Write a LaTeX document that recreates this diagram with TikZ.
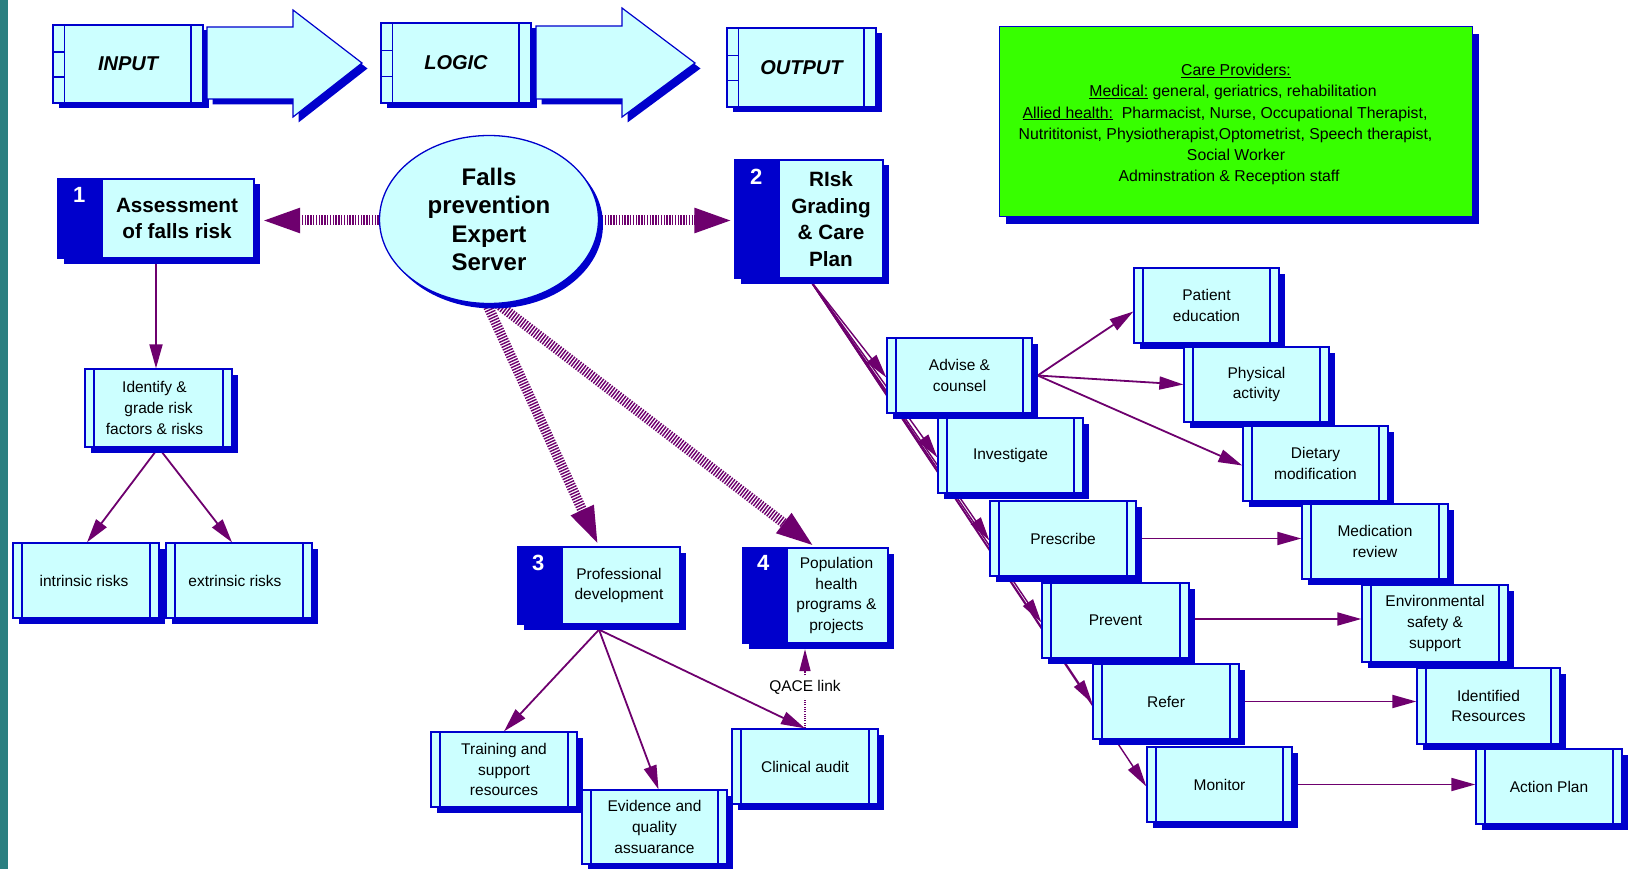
\documentclass[tikz,border=0pt]{standalone}
\usepackage{fontspec}
\setmainfont{Liberation Sans}
\usetikzlibrary{arrows.meta,shadows,shapes.geometric,calc}
\definecolor{cyanL}{RGB}{204,255,255}
\definecolor{blueD}{RGB}{0,0,204}
\definecolor{purp}{RGB}{110,0,110}
\definecolor{limeG}{RGB}{55,255,0}
\definecolor{tealS}{RGB}{42,127,128}
\newcommand\nf{\fontsize{15.5}{20.8}\selectfont}
\newcommand\cf{\fontsize{15.8}{21.1}\selectfont}
\newcommand\bfnt{\fontsize{20.7}{26.5}\selectfont\bfseries}
\newcommand\efnt{\fontsize{24}{28.4}\selectfont\bfseries}
\newcommand\tfnt{\fontsize{20}{24}\selectfont\bfseries\itshape}
\newcommand\numf{\fontsize{22}{24}\selectfont\bfseries}
\newcommand\tailpad[1]{\rule{#1}{0pt}}
\pgfdeclarelayer{bg}
\pgfsetlayers{bg,main}
\tikzset{
  shade5/.style={drop shadow={shadow xshift=5.5pt, shadow yshift=-5.5pt, fill=blueD, opacity=1}},
  barbox/.style={rectangle, fill=cyanL, draw=blueD, line width=1.3pt,
    minimum width=146pt, minimum height=75pt, inner sep=0pt, align=center, font=\nf, shade5,
    path picture={\draw[blueD, line width=1.3pt]
      ([xshift=9pt]path picture bounding box.north west) -- ([xshift=9pt]path picture bounding box.south west)
      ([xshift=-9pt]path picture bounding box.north east) -- ([xshift=-9pt]path picture bounding box.south east);}},
  stagebox/.style={rectangle, fill=cyanL, draw=blueD, line width=1.3pt, inner sep=0pt, font=\tfnt, shade5,
    path picture={\draw[blueD, line width=1.3pt]
      ([xshift=11.5pt]path picture bounding box.north west) -- ([xshift=11.5pt]path picture bounding box.south west)
      ([xshift=-12pt]path picture bounding box.north east) -- ([xshift=-12pt]path picture bounding box.south east)
      ($(path picture bounding box.north west)!0.345!(path picture bounding box.south west)$) -- +(11.5pt,0)
      ($(path picture bounding box.north west)!0.665!(path picture bounding box.south west)$) -- +(11.5pt,0);}},
  numbox/.style={rectangle, fill=cyanL, draw=blueD, line width=1.3pt, inner sep=0pt, shade5,
    path picture={\fill[blueD] (path picture bounding box.north west) rectangle ([xshift=45pt]path picture bounding box.south west);}},
  numtxt/.style={font=\numf, text=white, inner sep=0pt},
  blockarrow/.style={fill=cyanL, draw=blueD, line width=1.2pt, shade5},
  hatch/.style={draw=purp, line width=10pt, dash pattern=on 1.4pt off 1.4pt, -{Triangle[length=40pt,width=22pt]}},
  conn/.style={draw=purp, line width=1.8pt, -{Triangle[length=24pt,width=13pt]}},
  fan/.style={draw=purp, line width=1.4pt, -{Triangle[length=24pt,width=12pt]}}
}
\begin{document}
\begin{tikzpicture}[x=1pt,y=-1pt]
\useasboundingbox (0,0) rectangle (1633,869);
\begin{pgfonlayer}{bg}
  \fill[white] (0,0) rectangle (1633,869);
  \fill[tealS] (0,0) rectangle (8,869);
\end{pgfonlayer}

% top row: stages and block arrows
\node[stagebox, minimum width=150pt, minimum height=78pt] (inp) at (128,64) {INPUT};
\filldraw[blockarrow] (207,27) -- (293,27) -- (293,10) -- (362,63) -- (293,117) -- (293,99) -- (207,99) -- cycle;
\node[stagebox, minimum width=150pt, minimum height=80pt] (lgc) at (456,63) {LOGIC};
\filldraw[blockarrow] (536,26) -- (622,26) -- (622,8) -- (695,63) -- (622,117) -- (622,99) -- (536,99) -- cycle;
\node[stagebox, minimum width=149pt, minimum height=79pt] (outp) at (801.5,67.5) {OUTPUT};

% care providers panel
\node[rectangle, fill=limeG, draw=blueD, line width=1pt, minimum width=473pt, minimum height=190pt,
  inner sep=0pt,
  drop shadow={shadow xshift=6pt, shadow yshift=-7pt, fill=blueD, opacity=1}] (care) at (1236,122) {};
\node[align=center, font=\cf, inner sep=0pt] (caret) at (1236,124.5)
  {\underline{Care Providers:}\\
   \underline{Medical:} general, geriatrics, rehabilitation\tailpad{6pt}\\
   \underline{Allied health:}\ \ Pharmacist, Nurse, Occupational Therapist,\tailpad{22pt}\\
   Nutrititonist, Physiotherapist,Optometrist, Speech therapist,\tailpad{21pt}\\
   Social Worker\\
   Adminstration \& Reception staff\tailpad{14pt}};

% central server
\node[ellipse, fill=cyanL, draw=blueD, line width=1.3pt, minimum width=219pt, minimum height=168pt,
  inner sep=0pt, align=center, font=\efnt,
  drop shadow={shadow xshift=4.5pt, shadow yshift=-5pt, fill=blueD, opacity=1}] (srv) at (489,219.5)
  {Falls\\prevention\\Expert\\Server};

% numbered boxes
\node[numbox, minimum width=196pt, minimum height=79pt] (n1) at (156,218.5) {};
\node[numtxt] (n1n) at ([xshift=22pt,yshift=-17pt]n1.north west) {1};
\node[font=\bfnt, align=center] (n1t) at ([xshift=21pt]n1.center) {Assessment\\of falls risk};

\node[numbox, minimum width=148pt, minimum height=118pt] (n2) at (809,219) {};
\node[numtxt] (n2n) at ([xshift=22pt,yshift=-17pt]n2.north west) {2};
\node[font=\bfnt, align=center] (n2t) at ([xshift=22pt]n2.center) {RIsk\\Grading\\\& Care\\Plan};

\node[numbox, minimum width=162pt, minimum height=77pt] (n3) at (599,585.5) {};
\node[numtxt] (n3n) at ([xshift=21pt,yshift=-17pt]n3.north west) {3};
\node[font=\nf, align=center] (n3t) at ([xshift=20pt]n3.center) {Professional\\development};

\node[numbox, minimum width=145pt, minimum height=95pt] (n4) at (815.5,595.5) {};
\node[numtxt] (n4n) at ([xshift=21pt,yshift=-16pt]n4.north west) {4};
\node[font=\nf, align=center] (n4t) at ([xshift=21pt]n4.center) {Population\\health\\programs \&\\projects};

% assessment branch
\node[barbox, minimum width=147pt, minimum height=78pt] (idf) at (158.5,408) {Identify \&\hspace*{8pt}\\grade risk\hspace*{8pt}\\factors \& risks\hspace*{8pt}};
\node[barbox] (intr) at (86,580.5) {intrinsic risks\hspace*{4pt}};
\node[barbox] (extr) at (239,580.5) {extrinsic risks\hspace*{8pt}};

% professional development branch
\node[barbox] (trn) at (504,769.5) {Training and\\support\\resources};
\node[barbox, minimum width=145pt, minimum height=74pt] (evd) at (654.5,827) {Evidence and\\quality\\assuarance};
\node[barbox] (clin) at (805,766.5) {Clinical audit};

% care plan actions
\node[barbox, minimum width=145pt] (adv) at (959.5,375.5) {Advise \&\\counsel};
\node[barbox, minimum width=145pt] (inv) at (1010.5,455.5) {Investigate};
\node[barbox] (pre) at (1063,538.5) {Prescribe};
\node[barbox, minimum width=147pt] (prv) at (1115.5,620.5) {Prevent};
\node[barbox] (ref) at (1166,701.5) {Refer};
\node[barbox, minimum width=145pt] (mon) at (1219.5,784.5) {Monitor};

% outcomes
\node[barbox, minimum width=145pt] (pe) at (1206.5,305.5) {Patient\\education};
\node[barbox, minimum width=145pt] (pa) at (1256.5,384.5) {Physical\\activity};
\node[barbox, minimum width=145pt] (dm) at (1315.5,463.5) {Dietary\\modification};
\node[barbox] (med) at (1375,541.5) {Medication\\review};
\node[barbox, minimum height=77pt] (env) at (1435,623.5) {Environmental\\safety \&\\support};
\node[barbox, minimum width=143pt, minimum height=76pt] (idr) at (1488.5,706) {Identified\\Resources};
\node[barbox] (act) at (1549,786.5) {Action Plan};

\begin{pgfonlayer}{bg}
  % hatched links from the server
  \draw[hatch] ([yshift=-1pt]srv.west) -- ([yshift=-1pt,xshift=5.5pt]srv.west -| n1.east);
  \draw[hatch] ([yshift=-1pt]srv.east) -- ([yshift=-1pt]srv.east -| n2.west);
  \draw[hatch] ([xshift=-2pt]srv.south) -- (n3.north);
  \draw[hatch] ([xshift=9pt]srv.south) -- (n4.north);

  % assessment branch
  \draw[conn] (n1.south) -- (n1.south |- idf.north);
  \draw[conn] (idf.south) -- ([xshift=1pt]intr.north);
  \draw[conn] (idf.south) -- ([xshift=-7pt]extr.north);

  % professional development branch
  \draw[conn] ([yshift=-5pt]n3.south) -- (trn.north);
  \draw[conn] ([yshift=-5pt]n3.south) -- ([xshift=4pt]evd.north);
  \draw[conn] ([yshift=-5pt]n3.south) -- (clin.north);

  % care plan fan
  \foreach \t in {adv,inv,pre,prv,ref,mon}
    \draw[fan] (n2.south) -- ([yshift=-2pt]\t.west);

  % advice outcomes
  \draw[conn] ([xshift=5pt]adv.east) -- ([yshift=-6pt]pe.west);
  \draw[conn] ([xshift=5pt]adv.east) -- (pa.west);
  \draw[conn] ([xshift=5pt]adv.east) -- ([yshift=-2pt]dm.west);

  % horizontal outcomes
  \draw[conn] (pre.east) -- (pre.east -| med.west);
  \draw[conn] ([yshift=1.5pt]prv.east) -- ([yshift=1.5pt]prv.east -| env.west);
  \draw[conn] (ref.east) -- (ref.east -| idr.west);
  \draw[conn] (mon.east) -- (mon.east -| act.west);
\end{pgfonlayer}

% quality link between audit and population programs
\draw[purp, line width=1.5pt, dash pattern=on 1pt off 1.3pt, -{Triangle[length=22pt,width=11pt]}]
  (clin.north) -- ([yshift=-5.5pt]clin.north |- n4.south)
  node[pos=0.52, fill=white, inner xsep=2pt, inner ysep=4pt, font=\nf, text=black] (qace) {QACE link};
\end{tikzpicture}
\end{document}
